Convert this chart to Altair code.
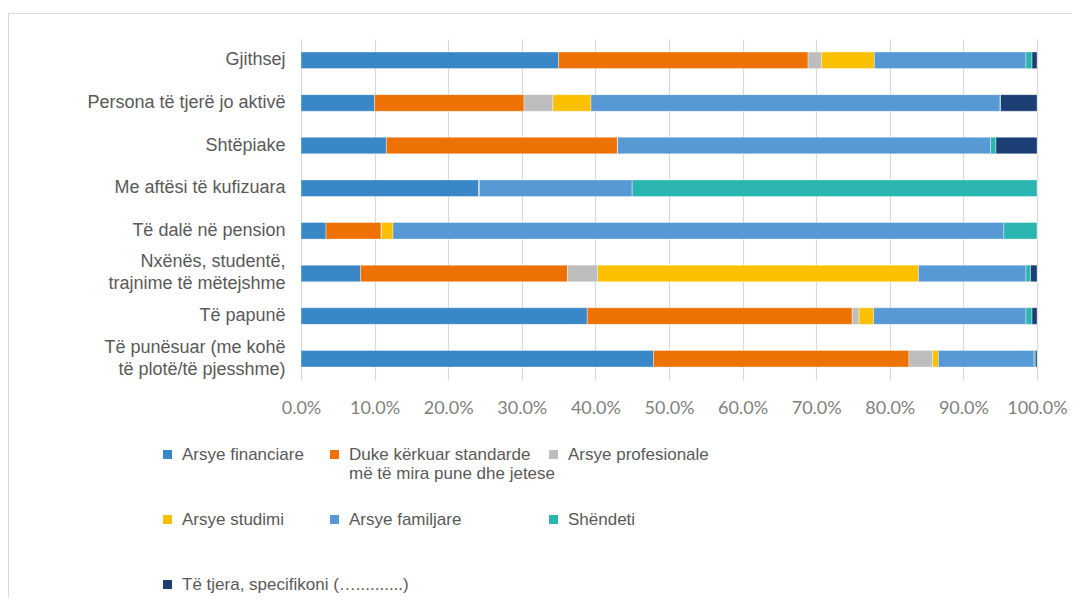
import altair as alt
import pandas as pd

groups = [
    "Gjithsej",
    "Persona të tjerë jo aktivë",
    "Shtëpiake",
    "Me aftësi të kufizuara",
    "Të dalë në pension",
    "Nxënës, studentë,|trajnime të mëtejshme",
    "Të papunë",
    "Të punësuar (me kohë|të plotë/të pjesshme)",
]

reasons = [
    "Arsye financiare",
    "Duke kërkuar standarde|më të mira pune dhe jetese",
    "Arsye profesionale",
    "Arsye studimi",
    "Arsye familjare",
    "Shëndeti",
    "Të tjera, specifikoni (…..........)",
]

colors = ["#3A87C8", "#EE7203", "#BDBDBD", "#FBC000", "#5799D4", "#2BB5B1", "#1B3F74"]

financiare = [35.0, 10.0, 11.6, 24.2, 3.4, 8.1, 38.9, 47.9]
duke_kerkuar = [33.9, 20.3, 31.4, 0.0, 7.5, 28.1, 36.0, 34.7]
profesionale = [1.8, 3.9, 0.0, 0.0, 0.0, 4.1, 0.9, 3.2]
studimi = [7.2, 5.2, 0.0, 0.0, 1.6, 43.6, 2.0, 0.8]
familjare = [20.6, 55.6, 50.7, 20.8, 83.0, 14.6, 20.7, 13.0]
shendeti = [0.8, 0.0, 0.7, 55.0, 4.5, 0.6, 0.8, 0.15]
te_tjera = [0.7, 5.0, 5.6, 0.0, 0.0, 0.9, 0.7, 0.25]

x_ticks = [0, 0.1, 0.2, 0.3, 0.4, 0.5, 0.6, 0.7, 0.8, 0.9, 1.0]

# legend columns (as in the original legend layout): indexes into reasons
legend_columns = [[0, 3, 6], [1, 4], [2, 5]]

series = [financiare, duke_kerkuar, profesionale, studimi, familjare, shendeti, te_tjera]
rows = []
for ri, (r, vals) in enumerate(zip(reasons, series)):
    for g, v in zip(groups, vals):
        rows.append({"group": g, "reason": r, "ri": ri, "value": v})
df = pd.DataFrame(rows)

FONT = "Liberation Sans"

y_enc = alt.Y(
    "group:N",
    sort=groups,
    scale=alt.Scale(paddingInner=0.61, paddingOuter=0.305),
    axis=alt.Axis(
        title=None,
        labelExpr="split(datum.label, '|')",
        labelFont=FONT,
        labelFontSize=18,
        labelColor="#595959",
        labelLineHeight=22,
        labelPadding=16,
        labelLimit=400,
        labelOffset=alt.condition("indexof(datum.value, '|') >= 0", alt.value(-11), alt.value(0)),
        ticks=False,
        domain=False,
        grid=False,
    ),
)
x_enc = alt.X(
    "v0:Q",
    scale=alt.Scale(domain=[0, 1], nice=False),
    axis=alt.Axis(
        title=None,
        values=x_ticks,
        format=".1%",
        labelFont="Lato",
        labelFontSize=18,
        labelColor="#7F7F7F",
        labelPadding=19,
        labelFlush=False,
        ticks=False,
        domain=False,
        grid=True,
        gridColor="#D9D9D9",
        gridWidth=1.2,
    ),
)

base = alt.Chart(df).transform_stack(
    stack="value",
    groupby=["group"],
    as_=["v0", "v1"],
    offset="normalize",
    sort=[alt.SortField("ri", order="ascending")],
)

common_legend = dict(
    title=None,
    orient="none",
    direction="vertical",
    symbolType="square",
    symbolSize=81,
    symbolStrokeWidth=0,
    labelFont=FONT,
    labelFontSize=17,
    labelColor="#595959",
    labelLimit=400,
    labelOffset=6,
    labelExpr="split(datum.label, '|')",
    padding=0,
)

legend_pos = [
    dict(legendX=-142, legendY=407, rowPadding=47),
    dict(legendX=25, legendY=407, rowPadding=28),
    dict(legendX=244, legendY=407, rowPadding=47),
]

layers = []
for k, idx in enumerate(legend_columns):
    layer = base.transform_filter(
        alt.FieldOneOfPredicate(field="ri", oneOf=idx)
    ).mark_bar(stroke="white", strokeWidth=0.6, strokeOpacity=0.6).encode(
        y=y_enc if k == 0 else alt.Y("group:N", sort=groups),
        x=x_enc if k == 0 else alt.X("v0:Q"),
        x2="v1:Q",
        color=alt.Color(
            "reason:N",
            scale=alt.Scale(domain=[reasons[i] for i in idx], range=[colors[i] for i in idx]),
            legend=alt.Legend(**legend_pos[k], **common_legend),
        ),
    )
    layers.append(layer)

frame = alt.Chart(alt.Data(values=[{"f": 1}])).mark_rect(
    fillOpacity=0, stroke="#D9D9D9", strokeWidth=1.2
).encode(
    x=alt.value(-292.5),
    x2=alt.value(900),
    y=alt.value(-25.5),
    y2=alt.value(700),
)

chart = alt.layer(frame, *layers).resolve_scale(color="independent").properties(
    width=736,
    height=341,
    autosize=alt.AutoSizeParams(type="none"),
    padding={"left": 293, "top": 31, "right": 35, "bottom": 217},
).configure_view(stroke=None)

chart.save("out.html", embed_options={"renderer": "svg", "actions": False})
